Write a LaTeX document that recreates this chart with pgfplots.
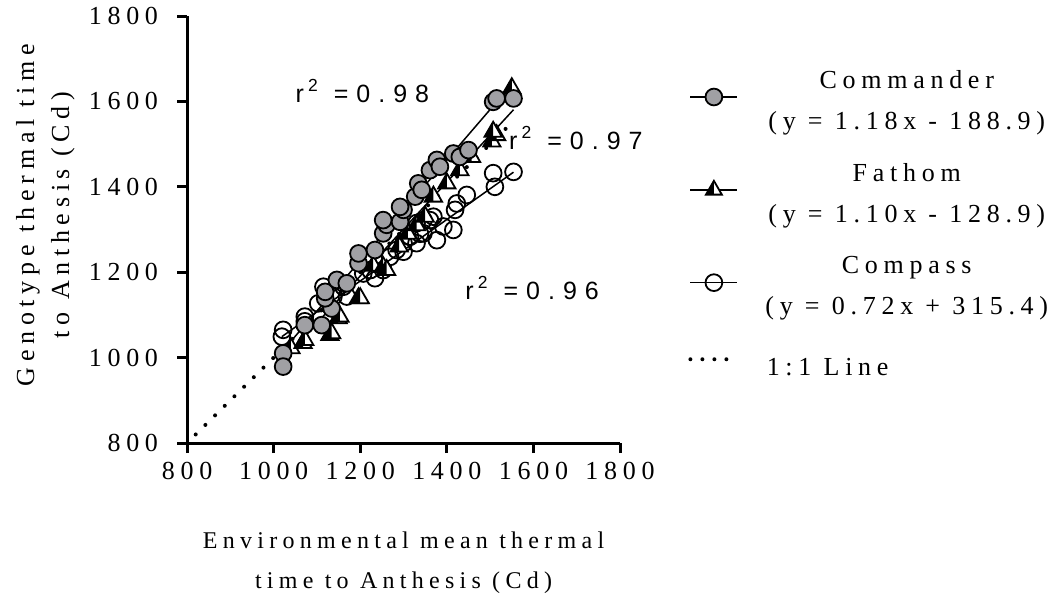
\documentclass[border=0pt]{standalone}
\usepackage{fontspec}
\setmainfont{Liberation Serif}[LetterSpace=22]
\newfontfamily\rfont{Liberation Sans}[LetterSpace=32]
\usepackage{pgfplots}
\pgfplotsset{compat=1.18}
\definecolor{cgray}{RGB}{160,160,164}

\pgfdeclareplotmark{halftri}{%
  \pgfsetfillcolor{white}%
  \pgfpathmoveto{\pgfqpointpolar{90}{\pgfplotmarksize}}%
  \pgfpathlineto{\pgfqpointpolar{210}{\pgfplotmarksize}}%
  \pgfpathlineto{\pgfqpointpolar{-30}{\pgfplotmarksize}}%
  \pgfpathclose
  \pgfusepathqfillstroke
  \pgfsetfillcolor{black}%
  \pgfpathmoveto{\pgfqpointpolar{90}{\pgfplotmarksize}}%
  \pgfpathlineto{\pgfqpointpolar{210}{\pgfplotmarksize}}%
  \pgfpathlineto{\pgfqpoint{0pt}{-0.5\pgfplotmarksize}}%
  \pgfpathclose
  \pgfusepathqfill
}

\begin{document}
\begin{tikzpicture}
\begin{axis}[
  scale only axis, width=216.5pt, height=213.5pt,
  xmin=800, xmax=1800, ymin=800, ymax=1800,
  xtick={800,1000,...,1800}, ytick={800,1000,...,1800},
  axis lines*=left,
  axis line style={line width=1.5pt},
  tick align=outside, major tick length=5pt,
  tick style={line width=1.5pt, black},
  /pgf/number format/assume math mode=true,
  /pgf/number format/1000 sep={},
  ticklabel style={font=\fontsize{13}{15}\selectfont},
  xticklabel style={yshift=-1pt},
  yticklabel shift=6pt,
  clip=false,
  xlabel={Environmental mean thermal\\time to Anthesis (Cd)},
  xlabel style={font=\fontsize{12}{20}\selectfont, align=center, at={(axis description cs:0.5,-0.281)}, anchor=center},
  ylabel={Genotype thermal time\\to Anthesis (Cd)},
  ylabel style={font=\fontsize{13}{17.5}\selectfont, align=center, at={(axis description cs:-0.327,0.534)}, anchor=center},
  legend image code/.code={\draw[yshift=2.2pt,mark repeat=2,mark phase=2,#1] plot coordinates {(0pt,0pt) (11.75pt,0pt) (23.5pt,0pt)};},
  legend style={at={(axis description cs:1.157,0.883)}, anchor=north west, draw=none, fill=none, inner sep=0pt,
    font=\fontsize{13}{20.5}\selectfont, row sep=11.5pt, nodes={align=center}, cells={anchor=center},
    /tikz/every odd column/.append style={column sep=11pt}},
]
\addlegendimage{black, line width=0.75pt, mark=*, mark size=4.2pt, mark options={fill=cgray, line width=0.9pt}}
\addlegendentry{Commander\\(y = 1.18x - 188.9)}
\addlegendimage{black, line width=0.75pt, mark=halftri, mark size=4.6pt, mark options={line width=0.9pt}}
\addlegendentry{Fathom\\(y = 1.10x - 128.9)}
\addlegendimage{black, line width=0.75pt, mark=o, mark size=4.2pt, mark options={line width=0.9pt}}
\addlegendentry{Compass\\(y = 0.72x + 315.4)}
\addlegendimage{black, line width=2pt, dash pattern=on 0pt off 6pt, line cap=round}
\addlegendentry{\rule[-7.5pt]{0pt}{21pt}\makebox[140pt][l]{1:1 Line}}

% 1:1 line
\addplot[forget plot, black, line width=2pt, dash pattern=on 0pt off 6.8pt, line cap=round] coordinates {(820,820) (1545,1545)};
% regression lines
\addplot[forget plot, black, line width=0.75pt] coordinates {(1022,1017.1) (1554,1644.8)};
\addplot[forget plot, black, line width=0.75pt] coordinates {(1068,1045.9) (1554,1580.5)};
\addplot[forget plot, black, line width=0.75pt] coordinates {(1019,1049.1) (1554,1434.3)};

% Compass
\addplot[forget plot, only marks, mark=o, mark size=4.2pt, mark options={line width=0.9pt, black}] coordinates {
(1022,1065) (1019,1049) (1072,1096) (1072,1085) (1103,1127) (1115,1166) (1138,1143) (1161,1166) (1169,1143)
(1207,1197) (1223,1205) (1234,1186) (1253,1205) (1269,1236) (1284,1252) (1300,1248) (1300,1268)
(1315,1283) (1330,1268) (1330,1315) (1338,1290) (1346,1322) (1346,1291) (1361,1322) (1369,1330)
(1377,1275) (1392,1307) (1415,1299) (1419,1346) (1423,1361) (1446,1381) (1507,1432) (1511,1400) (1554,1435)
};
% Fathom
\addplot[forget plot, only marks, mark=halftri, mark size=5pt, mark options={line width=0.9pt, draw=black}] coordinates {
(1040,1022) (1068,1034) (1072,1041) (1130,1053) (1134,1057) (1149,1092) (1153,1096) (1196,1139) (1200,1139)
(1230,1215) (1253,1212) (1261,1205) (1290,1260) (1310,1290) (1330,1310) (1350,1330) (1369,1377) (1400,1408)
(1430,1439) (1457,1470) (1504,1506) (1515,1521) (1507,1529) (1550,1631)
};
% Commander
\addplot[forget plot, only marks, mark=*, mark size=4.2pt, mark options={fill=cgray, draw=black, line width=0.9pt}] coordinates {
(1022,1010) (1022,979) (1072,1076) (1111,1076) (1134,1115) (1119,1139) (1119,1154) (1146,1182) (1169,1174)
(1196,1221) (1196,1244) (1234,1252) (1253,1291) (1261,1311) (1253,1322) (1292,1318) (1300,1346) (1292,1353)
(1327,1377) (1334,1408) (1342,1393) (1361,1439) (1377,1463) (1384,1447) (1415,1478) (1430,1470) (1450,1486)
(1507,1599) (1515,1607) (1554,1607)
};

\node[font=\rfont\fontsize{12.5}{15}\selectfont] at (axis cs:1205,1625) {r\,\raisebox{1pt}{\textsuperscript{2}}\ =0.98};
\node[font=\rfont\fontsize{12.5}{15}\selectfont] at (axis cs:1698,1515) {r\,\raisebox{1pt}{\textsuperscript{2}}\ =0.97};
\node[font=\rfont\fontsize{12.5}{15}\selectfont] at (axis cs:1597,1163) {r\,\raisebox{1pt}{\textsuperscript{2}}\ =0.96};

\path (axis description cs:-0.432,-0.4005) rectangle (axis description cs:2.0,1.0375);
\end{axis}
\end{tikzpicture}
\end{document}
